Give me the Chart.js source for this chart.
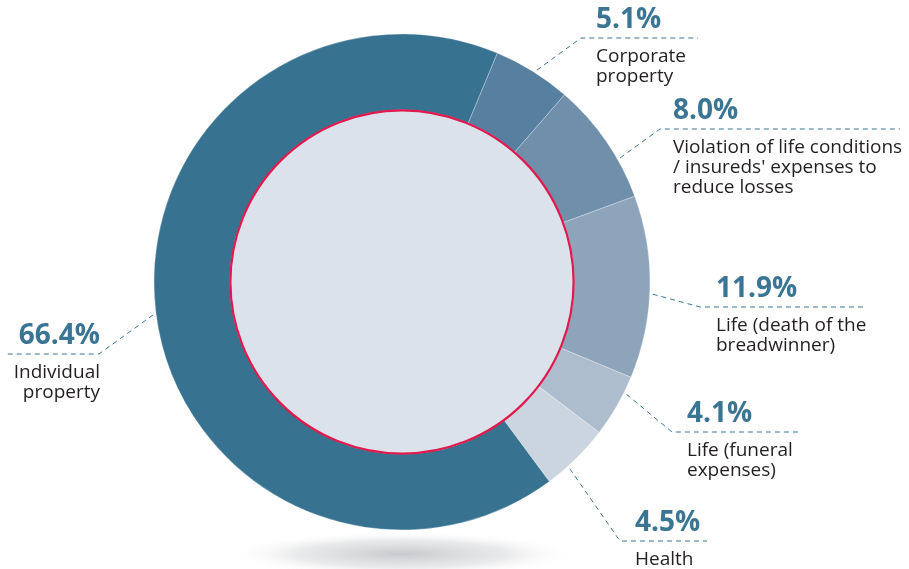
<!DOCTYPE html>
<html>
<head>
<meta charset="utf-8">
<script src="https://cdn.jsdelivr.net/npm/chart.js@4.4.0/dist/chart.umd.min.js"></script>
<style>
  html, body { margin: 0; padding: 0; background: #fff; }
  #wrap { width: 909px; height: 569px; }
</style>
</head>
<body>
<div id="wrap"><canvas id="claims" width="909" height="569"></canvas></div>
<script>
// share of insurance payouts by line, %
const categories = [
    ['Corporate', 'property'],
    ['Violation of life conditions', "/ insureds' expenses to", 'reduce losses'],
    ['Life (death of the', 'breadwinner)'],
    ['Life (funeral', 'expenses)'],
    ['Health'],
    ['Individual', 'property']
];
const shares = [5.1, 8.0, 11.9, 4.1, 4.5, 66.4];
const sliceColors = ['#577f9f', '#6f8fab', '#8da4bb', '#aebdce', '#cbd5e0', '#377391'];

// callout layout: angle nudge (deg), elbow of the dashed rule, rule end, text anchor
const callouts = [
    { nudge: 0.7,  elbow: [581, 38],  endX: 698, textX: 596, align: 'left' },
    { nudge: 5.0,  elbow: [660, 129], endX: 900, textX: 673, align: 'left' },
    { nudge: 1.6,  elbow: [700, 307], endX: 863, textX: 716, align: 'left' },
    { nudge: -3.4, elbow: [672, 432], endX: 802, textX: 687, align: 'left' },
    { nudge: 2.6,  elbow: [620, 541], endX: 707, textX: 635, align: 'left' },
    { nudge: -0.6, elbow: [99, 354],  endX: 5,   textX: 100, align: 'right' }
];

const accent = '#3a7594';

const ringDecor = {
    id: 'ringDecor',
    beforeDatasetsDraw(chart) {
        const ctx = chart.ctx;
        const arc = chart.getDatasetMeta(0).data[0];
        const { x, y, outerRadius } = arc.getProps(['x', 'y', 'outerRadius'], true);
        // soft floor shadow under the ring
        ctx.save();
        ctx.translate(x, y + outerRadius + 24);
        ctx.scale(1, 0.13);
        const g = ctx.createRadialGradient(0, 0, 0, 0, 0, 175);
        g.addColorStop(0, 'rgba(200,201,204,1)');
        g.addColorStop(0.6, 'rgba(224,225,227,0.7)');
        g.addColorStop(1, 'rgba(255,255,255,0)');
        ctx.fillStyle = g;
        ctx.beginPath();
        ctx.arc(0, 0, 175, 0, Math.PI * 2);
        ctx.fill();
        ctx.restore();
    },
    afterDatasetsDraw(chart) {
        const ctx = chart.ctx;
        const arc = chart.getDatasetMeta(0).data[0];
        const { x, y, innerRadius } = arc.getProps(['x', 'y', 'innerRadius'], true);
        // pale centre disc with a red rim
        ctx.save();
        ctx.beginPath();
        ctx.arc(x, y, innerRadius, 0, Math.PI * 2);
        ctx.fillStyle = '#dbe2ec';
        ctx.fill();
        ctx.beginPath();
        ctx.arc(x, y, innerRadius - 0.5, 0, Math.PI * 2);
        ctx.strokeStyle = '#e2194c';
        ctx.lineWidth = 2.2;
        ctx.stroke();
        ctx.restore();
    },
    afterDraw(chart) {
        const ctx = chart.ctx;
        const meta = chart.getDatasetMeta(0);
        ctx.save();
        meta.data.forEach((arc, i) => {
            const p = arc.getProps(['x', 'y', 'startAngle', 'endAngle', 'outerRadius'], true);
            const c = callouts[i];
            const a = (p.startAngle + p.endAngle) / 2 + c.nudge * Math.PI / 180;
            const r = p.outerRadius + 3;
            const sx = p.x + Math.cos(a) * r;
            const sy = p.y + Math.sin(a) * r;

            ctx.setLineDash([5, 4]);
            ctx.strokeStyle = accent;
            ctx.lineWidth = 1;
            ctx.beginPath();
            ctx.moveTo(sx, sy);
            ctx.lineTo(c.elbow[0], c.elbow[1]);
            ctx.lineTo(c.endX, c.elbow[1]);
            ctx.stroke();
            ctx.setLineDash([]);

            ctx.textAlign = c.align;
            ctx.textBaseline = 'alphabetic';
            ctx.fillStyle = accent;
            ctx.font = 'bold 28px "Open Sans"';
            ctx.fillText(shares[i].toFixed(1) + '%', c.textX, c.elbow[1] - 10);

            ctx.fillStyle = '#231f20';
            ctx.font = '19px "Open Sans"';
            categories[i].forEach((line, k) => {
                ctx.fillText(line, c.textX, c.elbow[1] + 24 + k * 20);
            });
        });
        ctx.restore();
    }
};

new Chart(document.getElementById('claims'), {
    type: 'doughnut',
    data: {
        labels: categories,
        datasets: [{
            data: shares,
            backgroundColor: sliceColors,
            borderColor: 'rgba(255,255,255,0.35)',
            borderWidth: 0.8
        }]
    },
    options: {
        responsive: false,
        animation: false,
        rotation: 22.6,
        radius: 248,
        cutout: '69.4%',
        layout: { padding: { left: 0, right: 105, top: 0, bottom: 5 } },
        plugins: {
            legend: { display: false },
            tooltip: { enabled: false }
        }
    },
    plugins: [ringDecor]
});
</script>
</body>
</html>
